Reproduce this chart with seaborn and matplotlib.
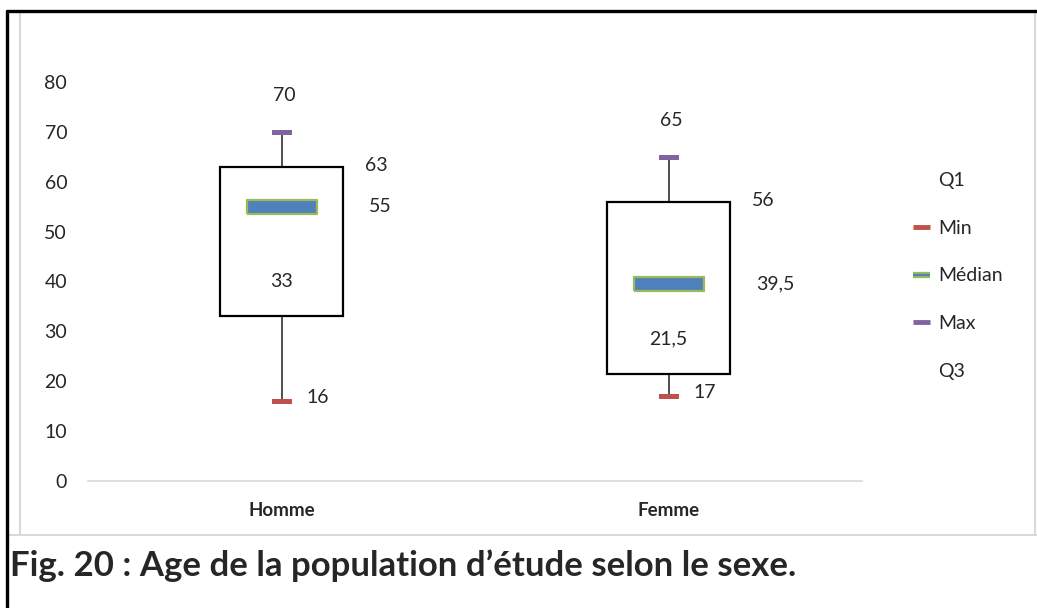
import numpy as np
import pandas as pd
import matplotlib.pyplot as plt
import seaborn as sns
from matplotlib.lines import Line2D
from matplotlib.path import Path

# stats per group
groups = ["Homme", "Femme"]
q1 = [33, 21.5]
median = [55, 39.5]
q3 = [63, 56]
mins = [16, 17]
maxs = [70, 65]
legend_labels = ["Q1", "Min", "Médian", "Max", "Q3"]

RED = "#C0504D"
GREEN = "#9BBB59"
BLUE = "#4F81BD"
PURPLE = "#8064A2"


def fmt(v):
    return f"{v:g}".replace(".", ",")


df = pd.DataFrame({"sexe": groups, "q1": q1, "median": median,
                   "q3": q3, "min": mins, "max": maxs})
df["iqr"] = df["q3"] - df["q1"]

sns.set_theme(style="white")
plt.rcParams["font.family"] = ["Lato", "DejaVu Sans"]

W, H = 1037, 608
fig = plt.figure(figsize=(W / 100, H / 100), dpi=100)
ax = fig.add_axes([88 / W, 127 / H, 774 / W, 399 / H])

# box = Q1..Q3
sns.barplot(data=df, x="sexe", y="iqr", bottom=df["q1"].values,
            width=0.318, color="white", edgecolor="black", linewidth=1.6,
            errorbar=None, ax=ax, zorder=2)

# whiskers
xs = np.arange(len(groups))
ax.vlines(xs, df["q3"], df["max"], color="#404040", lw=1.3, zorder=1)
ax.vlines(xs, df["min"], df["q1"], color="#404040", lw=1.3, zorder=1)

cap = Path([(-2, -0.5), (2, -0.5), (2, 0.5), (-2, 0.5), (-2, -0.5)])
med = Path([(-2.6, -0.5), (2.6, -0.5), (2.6, 0.5), (-2.6, 0.5), (-2.6, -0.5)])

sns.stripplot(x=df["sexe"], y=df["min"], jitter=False, marker=cap, size=14.4,
              color=RED, linewidth=0, ax=ax, zorder=4)
sns.stripplot(x=df["sexe"], y=df["max"], jitter=False, marker=cap, size=14.4,
              color=PURPLE, linewidth=0, ax=ax, zorder=4)
sns.stripplot(x=df["sexe"], y=df["median"], jitter=False, marker=med, size=51,
              color=BLUE, edgecolor=GREEN, linewidth=1.6, ax=ax, zorder=4)

# data labels
fs = 14
for i, r in df.iterrows():
    ax.annotate(fmt(r["max"]), (i, r["max"]), xytext=(2, 26), textcoords="offset points",
                ha="center", va="center", fontsize=fs)
    ax.annotate(fmt(r["q3"]), (i, r["q3"]), xytext=(60, 1), textcoords="offset points",
                ha="left", va="center", fontsize=fs)
    ax.annotate(fmt(r["median"]), (i, r["median"]), xytext=(63, 0), textcoords="offset points",
                ha="left", va="center", fontsize=fs)
    ax.annotate(fmt(r["q1"]), (i, r["q1"]), xytext=(0, 25), textcoords="offset points",
                ha="center", va="center", fontsize=fs)
    ax.annotate(fmt(r["min"]), (i, r["min"]), xytext=(18, 3), textcoords="offset points",
                ha="left", va="center", fontsize=fs)

ax.set_ylim(0, 80)
ax.set_yticks(range(0, 81, 10))
ax.set_xlim(-0.5, 1.5)
ax.set_xlabel("")
ax.set_ylabel("")
ax.tick_params(axis="y", length=0, pad=15, labelsize=fs)
ax.tick_params(axis="x", length=0, pad=15, labelsize=13.5)
for lab in ax.get_xticklabels():
    lab.set_fontweight("bold")
for s in ["top", "right", "left"]:
    ax.spines[s].set_visible(False)
ax.spines["bottom"].set_color("#D9D9D9")
ax.spines["bottom"].set_linewidth(1.2)
ax.patch.set_alpha(0)

# legend
handles = [
    Line2D([], [], color="none"),
    Line2D([], [], color=RED, lw=3.5, solid_capstyle="butt"),
    (Line2D([], [], color=GREEN, lw=4.5, solid_capstyle="butt"),
     Line2D([], [], color=BLUE, lw=1.5, solid_capstyle="butt")),
    Line2D([], [], color=PURPLE, lw=3.5, solid_capstyle="butt"),
    Line2D([], [], color="none"),
]
fig.legend(handles, legend_labels, loc="upper left",
           bbox_to_anchor=(913 / W, 1 - 172 / H), frameon=False, fontsize=fs,
           handlelength=0.85, handletextpad=0.45, labelspacing=1.58, borderpad=0,
           borderaxespad=0)

# frame lines
def fline(x0, y0, x1, y1, color, lw):
    fig.add_artist(Line2D([x0 / W, x1 / W], [1 - y0 / H, 1 - y1 / H],
                          transform=fig.transFigure, color=color, lw=lw))

fline(20, 11, 20, 535, "#D9D9D9", 1.5)
fline(1035, 11, 1035, 535, "#D9D9D9", 1.5)
fline(7, 535, 1037, 535, "#D9D9D9", 1.5)
fline(7, 11, 1037, 11, "black", 2.4)
fline(7, 11, 7, 608, "black", 2.4)

fig.text(10 / W, 1 - 566 / H, "Fig. 20 : Age de la population d\u2019étude selon le sexe.",
         ha="left", va="center", fontsize=25, fontweight="bold")

fig.savefig("out.png", dpi=100)
